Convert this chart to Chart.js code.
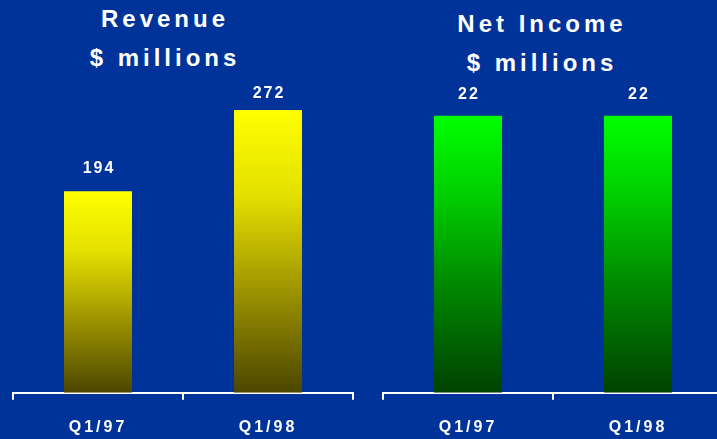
<!DOCTYPE html>
<html lang="en">
<head>
    <meta charset="UTF-8">
    <title>Revenue and Net Income</title>
    <script src="https://cdn.jsdelivr.net/npm/chart.js"></script>
    <style>
        html, body {
            margin: 0;
            padding: 0;
            width: 717px;
            height: 439px;
            overflow: hidden;
            background: #003399;
            font-family: Arial, "Liberation Sans", sans-serif;
        }
        .panel {
            position: absolute;
            top: 0;
            width: 366px;
            height: 459px;
        }
        .titulo {
            position: absolute;
            width: 300px;
            color: #ffffff;
            font-weight: bold;
            font-size: 24px;
            line-height: 39px;
            letter-spacing: 4px;
            text-align: center;
            padding-left: 4px;
            box-sizing: border-box;
        }
    </style>
</head>
<body>

    <div class="titulo" style="left:13px; top:-1px;">Revenue<br>$ millions</div>
    <div class="titulo" style="left:390px; top:4px;">Net Income<br>$ millions</div>

    <div class="panel" style="left:0px;"><canvas id="grafico-receita"></canvas></div>
    <div class="panel" style="left:370px;"><canvas id="grafico-lucro"></canvas></div>

    <script>
        // dados
        const quarters = ['Q1/97', 'Q1/98'];
        const revenue = [194, 272];
        const netIncome = [22, 22];

        const fonte = 'Arial, "Liberation Sans", sans-serif';

        // espaçamento entre letras (o canvas perde o estado quando muda de tamanho)
        const espacamento = {
            id: 'espacamento',
            beforeLayout(chart) { chart.ctx.letterSpacing = '3px'; },
            beforeDraw(chart) { chart.ctx.letterSpacing = '3px'; }
        };

        // valores acima das barras
        const rotulos = {
            id: 'rotulos',
            afterDatasetsDraw(chart, args, opts) {
                const ctx = chart.ctx;
                const meta = chart.getDatasetMeta(0);
                const valores = chart.data.datasets[0].data;
                ctx.save();
                ctx.letterSpacing = '2px';
                ctx.fillStyle = '#ffffff';
                ctx.font = 'bold 16px ' + fonte;
                ctx.textAlign = 'center';
                ctx.textBaseline = 'middle';
                meta.data.forEach((barra, i) => {
                    ctx.fillText(String(valores[i]), barra.x + 1, barra.y - opts.gaps[i]);
                });
                ctx.restore();
            }
        };

        function gradiente(cores) {
            return function(context) {
                const chart = context.chart;
                const area = chart.chartArea;
                if (!area || context.type !== 'data') return cores[0];
                const topo = chart.scales.y.getPixelForValue(context.parsed.y);
                const g = chart.ctx.createLinearGradient(0, topo, 0, area.bottom);
                g.addColorStop(0, cores[0]);
                g.addColorStop(0.3, cores[1]);
                g.addColorStop(0.6, cores[2]);
                g.addColorStop(1, cores[3]);
                return g;
            };
        }

        function criarGrafico(canvas, valores, cores, maximo, topo, gaps) {
            return new Chart(canvas, {
                type: 'bar',
                data: {
                    labels: quarters,
                    datasets: [{
                        data: valores,
                        backgroundColor: gradiente(cores),
                        borderWidth: 0,
                        categoryPercentage: 1,
                        barPercentage: 0.4
                    }]
                },
                options: {
                    responsive: true,
                    maintainAspectRatio: false,
                    animation: false,
                    layout: { padding: { left: 13, right: 13, top: topo, bottom: 4 } },
                    plugins: {
                        legend: { display: false },
                        tooltip: { enabled: false },
                        rotulos: { gaps: gaps }
                    },
                    scales: {
                        y: { display: false, min: 0, max: maximo },
                        x: {
                            offset: true,
                            grid: {
                                offset: true,
                                drawOnChartArea: false,
                                tickLength: 7,
                                color: '#ffffff',
                                lineWidth: 2
                            },
                            border: { display: true, color: '#ffffff', width: 2 },
                            ticks: {
                                color: '#ffffff',
                                padding: 18,
                                font: { family: fonte, size: 16, weight: 'bold' }
                            }
                        }
                    }
                },
                plugins: [espacamento, rotulos]
            });
        }

        criarGrafico(document.getElementById('grafico-receita'), revenue,
            ['#ffff00', '#e4e000', '#a69c00', '#4c4600'], 300, 81, [23, 17]);
        criarGrafico(document.getElementById('grafico-lucro'), netIncome,
            ['#00ff00', '#00cc00', '#008a00', '#004200'], 25, 78, [21.5, 21.5]);
    </script>

</body>
</html>
